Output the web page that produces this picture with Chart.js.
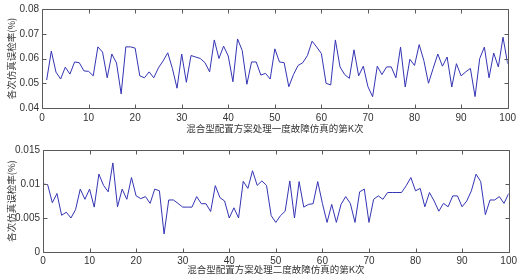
<!DOCTYPE html>
<html>
<head>
<meta charset="utf-8">
<script src="https://cdn.jsdelivr.net/npm/chart.js@4/dist/chart.umd.min.js"></script>
<style>
  html, body { margin: 0; padding: 0; background: #fff; }
  #wrap { position: relative; width: 520px; height: 280px; overflow: hidden; }
  canvas { position: absolute; left: 0; }
</style>
</head>
<body>
<div id="wrap">
  <canvas id="c1" width="520" height="140" style="top:0"></canvas>
  <canvas id="c2" width="520" height="140" style="top:140px"></canvas>
</div>
<script>
// ---- data ----
const topStartK = 1;
const topValues = [
  0.0513,0.0630,0.0545,0.0517,0.0565,0.0537,0.0586,0.0583,0.0550,0.0548,
  0.0530,0.0647,0.0626,0.0522,0.0618,0.0582,0.0457,0.0647,0.0647,0.0642,
  0.0530,0.0522,0.0546,0.0522,0.0562,0.0590,0.0623,0.0560,0.0480,0.0618,
  0.0504,0.0612,0.0606,0.0600,0.0583,0.0546,0.0675,0.0600,0.0650,0.0610,
  0.0506,0.0679,0.0632,0.0496,0.0586,0.0586,0.0533,0.0540,0.0517,0.0639,
  0.0586,0.0583,0.0486,0.0535,0.0572,0.0583,0.0612,0.0670,0.0646,0.0620,
  0.0500,0.0493,0.0675,0.0566,0.0535,0.0520,0.0635,0.0530,0.0569,0.0486,
  0.0446,0.0569,0.0535,0.0566,0.0566,0.0522,0.0646,0.0485,0.0597,0.0572,
  0.0656,0.0592,0.0500,0.0560,0.0618,0.0569,0.0606,0.0485,0.0579,0.0530,
  0.0546,0.0560,0.0446,0.0600,0.0646,0.0522,0.0622,0.0566,0.0686,0.0579
];
const bottomStartK = 0;
const bottomValues = [
  0.0100,
  0.0099,0.00725,0.0086,0.0054,0.00585,0.0050,0.00625,0.00925,0.00775,0.00925,
  0.0066,0.01145,0.0098,0.00885,0.0131,0.00665,0.00925,0.00775,0.01095,0.00825,
  0.00785,0.00815,0.00715,0.00925,0.0090,0.00265,0.00765,0.00765,0.00715,0.0066,
  0.0066,0.0066,0.00815,0.0071,0.0071,0.00595,0.00975,0.0080,0.0075,0.0050,
  0.0065,0.0050,0.0104,0.00935,0.01195,0.0098,0.01045,0.0098,0.00535,0.00435,
  0.00535,0.0060,0.01045,0.0050,0.01035,0.0066,0.0070,0.0071,0.01035,0.00715,
  0.00435,0.0070,0.00435,0.0070,0.00815,0.00715,0.00435,0.00885,0.00925,0.00435,
  0.00775,0.00825,0.00775,0.00875,0.00875,0.00875,0.00875,0.00975,0.01095,0.0090,
  0.00935,0.00665,0.00875,0.0075,0.0060,0.00715,0.00665,0.00825,0.00825,0.00665,
  0.0075,0.0090,0.01145,0.01035,0.0055,0.00765,0.00765,0.00815,0.00715,0.0086
];
const xTicks = [0,10,20,30,40,50,60,70,80,90,100];
const xTickLabels = ['0','10','20','30','40','50','60','70','80','90','100'];
const topYTicks = [0.04,0.05,0.06,0.07,0.08];
const topYTickLabels = ['0.04','0.05','0.06','0.07','0.08'];
const bottomYTicks = [0,0.005,0.01,0.015];
const bottomYTickLabels = ['0','0.005','0.01','0.015'];
const yTitle = '各次仿真误检率(%)';
const topXTitle = '混合型配置方案处理一度故障仿真的第K次';
const bottomXTitle = '混合型配置方案处理二度故障仿真的第K次';

// ---- styles ----
const LINE = '#3434b4';
const FRAME = '#5a5a5a';
const TEXT = '#333333';
const tickFont = { family: '"Liberation Sans", Arial, sans-serif', size: 10 };
const titleFont = { family: '"Noto Sans CJK SC", sans-serif', size: 9.5 };

const framePlugin = {
  id: 'frame',
  afterDatasetsDraw(chart) {
    const ctx = chart.ctx, a = chart.chartArea;
    const xs = chart.scales.x, ys = chart.scales.y;
    const L = Math.round(a.left) + 0.5, R = Math.round(a.right) + 0.5;
    const T = Math.round(a.top) + 0.5, B = Math.round(a.bottom) + 0.5;
    ctx.save();
    ctx.strokeStyle = FRAME;
    ctx.lineWidth = 1;
    ctx.beginPath();
    ctx.rect(L, T, R - L, B - T);
    const tl = 4;
    xs.ticks.forEach(t => {
      const p = Math.round(xs.getPixelForValue(t.value)) + 0.5;
      ctx.moveTo(p, B); ctx.lineTo(p, B - tl);
      ctx.moveTo(p, T); ctx.lineTo(p, T + tl);
    });
    ys.ticks.forEach(t => {
      const p = Math.round(ys.getPixelForValue(t.value)) + 0.5;
      ctx.moveTo(L, p); ctx.lineTo(L + tl, p);
      ctx.moveTo(R, p); ctx.lineTo(R - tl, p);
    });
    ctx.stroke();
    ctx.restore();
  }
};

function makeChart(id, values, startK, yTicks, yLabels, xTitle, cfg) {
  const data = values.map((v, i) => ({ x: startK + i, y: v }));
  return new Chart(document.getElementById(id), {
    type: 'line',
    data: { datasets: [{ data, borderColor: LINE, borderWidth: 1, pointRadius: 0, tension: 0, fill: false }] },
    options: {
      responsive: false, animation: false, devicePixelRatio: 1,
      layout: { padding: { left: 0, top: cfg.top, right: cfg.right, bottom: 0 } },
      plugins: { legend: { display: false }, tooltip: { enabled: false } },
      scales: {
        x: {
          type: 'linear', min: 0, max: 100,
          grid: { display: false, drawTicks: false }, border: { display: false },
          afterBuildTicks: s => { s.ticks = xTicks.map(v => ({ value: v })); },
          ticks: { color: TEXT, font: tickFont, padding: cfg.xPad, maxRotation: 0, autoSkip: false,
                   callback: (v) => xTickLabels[xTicks.indexOf(v)] },
          title: { display: true, text: xTitle, color: TEXT, font: titleFont, padding: { top: 0, bottom: cfg.xTitlePad } },
          afterFit: s => { s.height = cfg.xH; }
        },
        y: {
          min: yTicks[0], max: yTicks[yTicks.length - 1],
          grid: { display: false, drawTicks: false }, border: { display: false },
          afterBuildTicks: s => { s.ticks = yTicks.map(v => ({ value: v })); },
          ticks: { color: TEXT, font: tickFont, padding: 3, autoSkip: false,
                   callback: (v) => yLabels[yTicks.indexOf(v)] },
          title: { display: true, text: yTitle, color: TEXT, font: titleFont, padding: { top: 6, bottom: 0 } },
          afterFit: s => { s.width = cfg.yW; }
        }
      }
    },
    plugins: [framePlugin]
  });
}

makeChart('c1', topValues, topStartK, topYTicks, topYTickLabels, topXTitle,
  { top: 8, right: 9, yW: 42, xH: 32, xPad: 4, xTitlePad: 6 });
makeChart('c2', bottomValues, bottomStartK, bottomYTicks, bottomYTickLabels, bottomXTitle,
  { top: 10, right: 9, yW: 43, xH: 28, xPad: 3, xTitlePad: 5 });
</script>
</body>
</html>
